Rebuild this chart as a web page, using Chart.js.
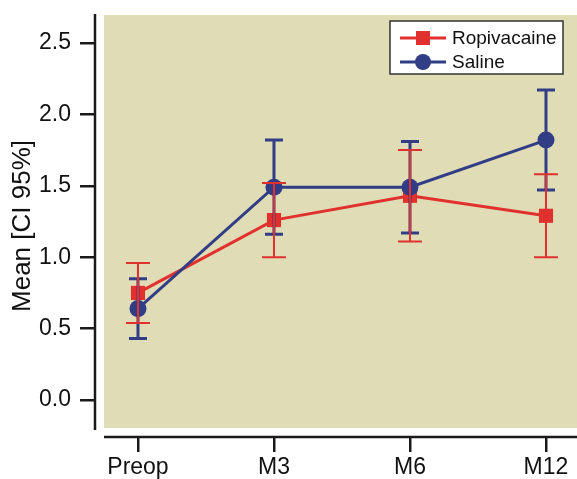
<!DOCTYPE html>
<html>
<head>
<meta charset="utf-8">
<script src="https://cdn.jsdelivr.net/npm/chart.js@4"></script>
<style>
  html, body { margin: 0; padding: 0; background: #fff; }
  #wrap { width: 577px; height: 479px; }
</style>
</head>
<body>
<div id="wrap"><canvas id="graph" width="577" height="479"></canvas></div>
<script>
const categories = ['Preop', 'M3', 'M6', 'M12'];
const ropiMean = [0.75, 1.26, 1.43, 1.29];
const ropiLow  = [0.54, 1.00, 1.11, 1.00];
const ropiHigh = [0.96, 1.52, 1.75, 1.58];
const salMean  = [0.64, 1.49, 1.49, 1.82];
const salLow   = [0.43, 1.16, 1.17, 1.47];
const salHigh  = [0.85, 1.82, 1.81, 2.17];
const yTicks = [0, 0.5, 1.0, 1.5, 2.0, 2.5];

const RED = '#E0312E';
const BLUE = '#313D85';
const BG = '#DFDCB6';
const AXIS = '#1a1a1a';
const FONT = 'Liberation Sans, Arial, sans-serif';

const errors = [
  { low: ropiLow, high: ropiHigh, color: RED, width: 2, cap: 12 },
  { low: salLow, high: salHigh, color: BLUE, width: 3, cap: 9 }
];

// background and offset axis lines
const frame = {
  id: 'frame',
  beforeDraw(chart) {
    const { ctx, chartArea: a } = chart;
    ctx.save();
    ctx.fillStyle = BG;
    ctx.fillRect(a.left + 9, a.top, a.right - a.left - 9, a.bottom - a.top - 9);
    ctx.strokeStyle = AXIS;
    ctx.lineWidth = 2.5;
    ctx.beginPath();
    ctx.moveTo(a.left, a.top - 1);
    ctx.lineTo(a.left, a.bottom - 7);
    ctx.moveTo(a.left + 9, a.bottom);
    ctx.lineTo(a.right, a.bottom);
    ctx.stroke();
    ctx.restore();
  }
};

// confidence interval bars, blue first then red on top
const errorBars = {
  id: 'errorBars',
  afterDatasetsDraw(chart) {
    const { ctx, scales: { x, y } } = chart;
    ctx.save();
    [1, 0].forEach(d => {
      const e = errors[d];
      ctx.strokeStyle = e.color;
      ctx.lineWidth = e.width;
      e.low.forEach((lo, i) => {
        const px = x.getPixelForValue(i);
        const y1 = y.getPixelForValue(lo);
        const y2 = y.getPixelForValue(e.high[i]);
        ctx.beginPath();
        ctx.moveTo(px, y1); ctx.lineTo(px, y2);
        ctx.moveTo(px - e.cap, y1); ctx.lineTo(px + e.cap, y1);
        ctx.moveTo(px - e.cap, y2); ctx.lineTo(px + e.cap, y2);
        ctx.stroke();
      });
    });
    ctx.restore();
  }
};

// boxed legend with line + marker samples
const boxLegend = {
  id: 'boxLegend',
  afterDraw(chart) {
    const { ctx } = chart;
    const bx = 390, by = 21, bw = 173, bh = 53;
    ctx.save();
    ctx.fillStyle = '#fff';
    ctx.fillRect(bx, by, bw, bh);
    ctx.strokeStyle = '#333';
    ctx.lineWidth = 1.5;
    ctx.strokeRect(bx, by, bw, bh);
    ctx.font = '19px ' + FONT;
    ctx.textBaseline = 'middle';
    chart.data.datasets.forEach((ds, i) => {
      const ly = by + 17 + i * 24;
      ctx.strokeStyle = ds.borderColor;
      ctx.lineWidth = 3;
      ctx.beginPath();
      ctx.moveTo(bx + 10, ly); ctx.lineTo(bx + 56, ly);
      ctx.stroke();
      ctx.fillStyle = ds.borderColor;
      ctx.beginPath();
      if (ds.pointStyle === 'rect') ctx.rect(bx + 26, ly - 7, 14, 14);
      else ctx.arc(bx + 33, ly, 8, 0, Math.PI * 2);
      ctx.fill();
      ctx.fillStyle = '#111';
      ctx.fillText(ds.label, bx + 62, ly + 1);
    });
    ctx.restore();
  }
};

new Chart(document.getElementById('graph'), {
  type: 'line',
  data: {
    datasets: [
      {
        label: 'Ropivacaine',
        data: ropiMean.map((v, i) => ({ x: i, y: v })),
        borderColor: RED,
        backgroundColor: RED,
        borderWidth: 3,
        pointStyle: 'rect',
        pointRadius: 10,
        pointBorderWidth: 0,
        order: 2
      },
      {
        label: 'Saline',
        data: salMean.map((v, i) => ({ x: i, y: v })),
        borderColor: BLUE,
        backgroundColor: BLUE,
        borderWidth: 3,
        pointStyle: 'circle',
        pointRadius: 8.5,
        pointBorderWidth: 0,
        order: 1
      }
    ]
  },
  options: {
    responsive: false,
    animation: false,
    layout: { autoPadding: false, padding: { top: 15, right: 0, left: 0, bottom: 0 } },
    plugins: { legend: { display: false }, tooltip: { enabled: false } },
    scales: {
      x: {
        type: 'linear',
        min: -0.316,
        max: 3.228,
        afterFit(s) { s.height = 42; s.paddingLeft = 0; s.paddingRight = 0; },
        afterBuildTicks(s) { s.ticks = categories.map((c, i) => ({ value: i })); },
        ticks: {
          callback: (v) => categories[v],
          color: '#111',
          font: { size: 23, family: FONT },
          padding: 2,
          maxRotation: 0
        },
        grid: { drawOnChartArea: false, drawTicks: true, tickLength: 15, lineWidth: 2.5, color: AXIS },
        border: { display: false }
      },
      y: {
        min: -0.259,
        max: 2.696,
        afterFit(s) { s.width = 95; s.paddingTop = 0; s.paddingBottom = 0; },
        afterBuildTicks(s) { s.ticks = yTicks.map(v => ({ value: v })); },
        ticks: {
          callback: (v) => v.toFixed(1),
          color: '#111',
          font: { size: 23, family: FONT },
          padding: 9
        },
        title: {
          display: true,
          text: 'Mean [CI 95%]',
          color: '#111',
          font: { size: 26, family: FONT },
          padding: { top: 7, bottom: 0 }
        },
        grid: { drawOnChartArea: false, drawTicks: true, tickLength: 15, lineWidth: 2.5, color: AXIS },
        border: { display: false }
      }
    }
  },
  plugins: [frame, errorBars, boxLegend]
});
</script>
</body>
</html>
